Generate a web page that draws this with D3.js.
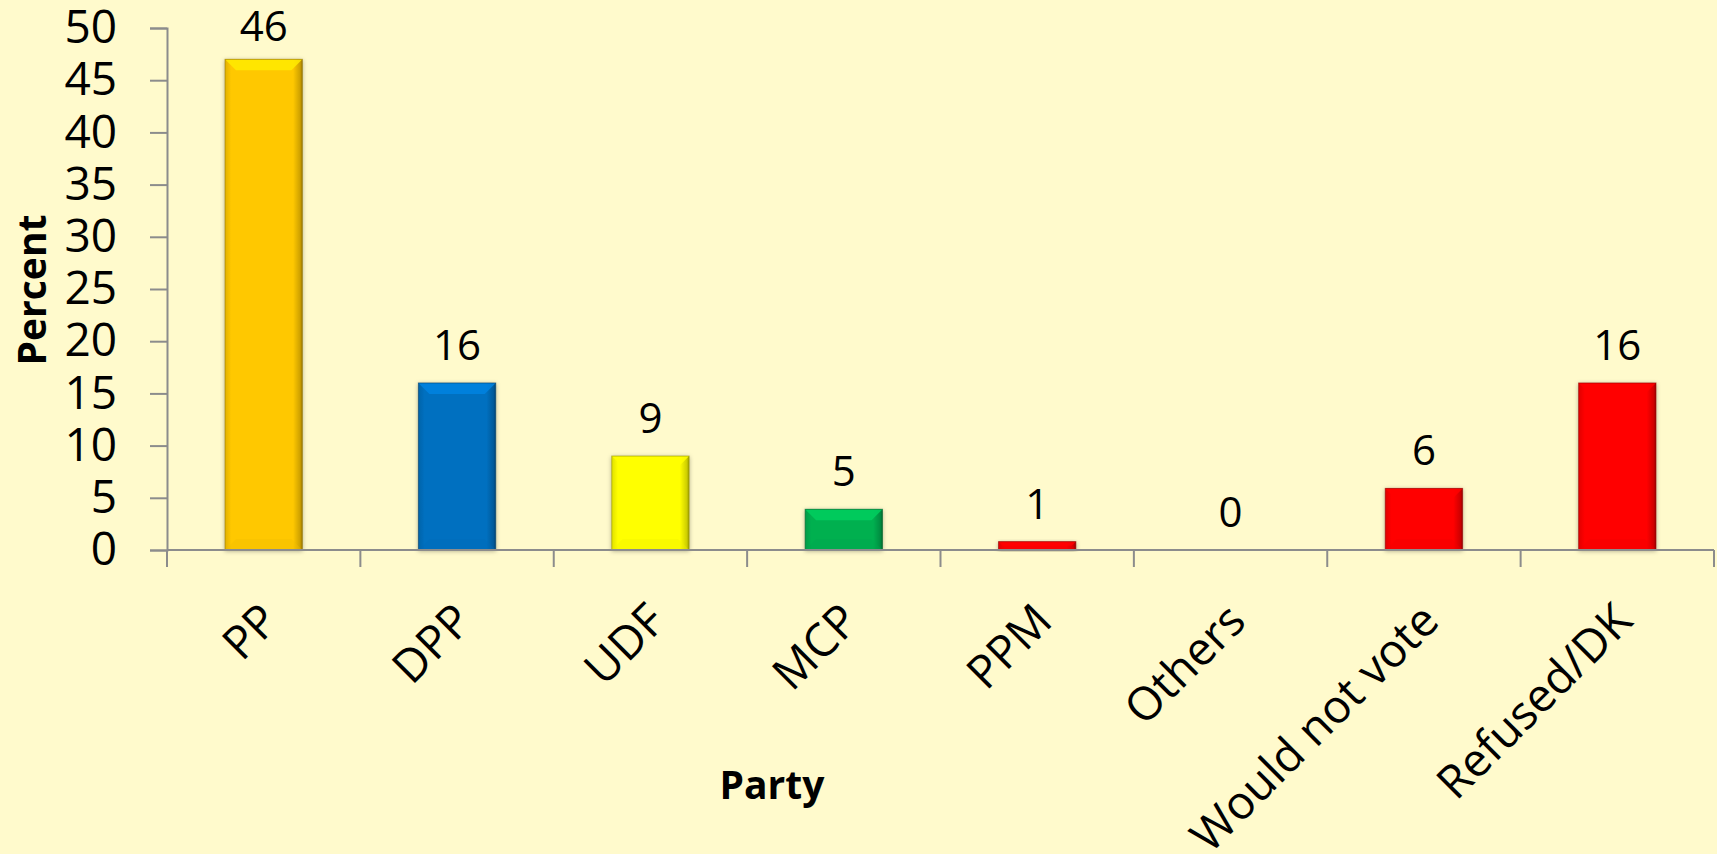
<!DOCTYPE html>
<html>
<head>
<meta charset="utf-8">
<script src="https://cdn.jsdelivr.net/npm/d3@7"></script>
<style>
  body { margin: 0; background: #FFFACC; }
  svg { display: block; font-family: 'Open Sans', sans-serif; }
</style>
</head>
<body>
<svg id="chart" width="1717" height="854"></svg>
<script>
// chart data
const parties = ['PP', 'DPP', 'UDF', 'MCP', 'PPM', 'Others', 'Would not vote', 'Refused/DK']
const barValues = [47, 16, 9, 3.9, 0.8, 0, 5.9, 16]
const barLabels = ['46', '16', '9', '5', '1', '0', '6', '16']
const barColors = ['#FFC800', '#0070C0', '#FFFF00', '#00B050', '#FF0000', '#FF0000', '#FF0000', '#FF0000']
const yTicks = [0, 5, 10, 15, 20, 25, 30, 35, 40, 45, 50]

const width = 1717, height = 854
const plotLeft = 167, plotRight = 1714, plotTop = 28, plotBottom = 550

const svg = d3.select('#chart')

svg.append('rect').attr('width', width).attr('height', height).attr('fill', '#FFFACC')

const x = d3.scaleBand()
    .domain(parties)
    .range([plotLeft, plotRight])
    .paddingInner(0.6)
    .paddingOuter(0.3)

const y = d3.scaleLinear()
    .domain([0, 50])
    .range([plotBottom, plotTop])

const defs = svg.append('defs')

// soft shadow like the office bevel style
const shadow = defs.append('filter').attr('id', 'shadow')
    .attr('x', '-20%').attr('y', '-20%').attr('width', '140%').attr('height', '140%')
shadow.append('feDropShadow')
    .attr('dx', 0).attr('dy', 1).attr('stdDeviation', 2)
    .attr('flood-color', '#000').attr('flood-opacity', 0.3)

// one horizontal gradient per colour
const uniqueColors = Array.from(new Set(barColors))
uniqueColors.forEach((c, i) => {
    const g = defs.append('linearGradient')
        .attr('id', 'grad' + i)
        .attr('x1', '0%').attr('x2', '100%').attr('y1', '0%').attr('y2', '0%')
    const base = d3.color(c)
    g.append('stop').attr('offset', '0%').attr('stop-color', base.darker(0.35))
    g.append('stop').attr('offset', '8%').attr('stop-color', base)
    g.append('stop').attr('offset', '88%').attr('stop-color', base)
    g.append('stop').attr('offset', '97%').attr('stop-color', base.darker(0.6))
    g.append('stop').attr('offset', '100%').attr('stop-color', base.darker(1.4))
})

// y axis
const yAxis = d3.axisLeft(y)
    .tickValues(yTicks)
    .tickSize(17)
    .tickPadding(33)

const axisLeft = svg.append('g')
    .attr('transform', 'translate(' + plotLeft + ',0)')
    .call(yAxis)

axisLeft.select('.domain').attr('stroke', '#8C8C8C').attr('stroke-width', 2)
axisLeft.selectAll('.tick line').attr('stroke', '#8C8C8C').attr('stroke-width', 2)
axisLeft.selectAll('.tick text')
    .attr('fill', '#000')
    .style('font-size', '46px')
    .style('font-family', "'Open Sans', sans-serif")

// bars
const bars = svg.selectAll('.bar')
    .data(parties)
    .enter()
    .append('g')
    .attr('class', 'bar')
    .attr('filter', 'url(#shadow)')

bars.each(function (d, i) {
    const v = barValues[i]
    if (v <= 0) return
    const g = d3.select(this)
    const x0 = x(d), w = x.bandwidth()
    const y0 = y(v), h = y(0) - y(v)
    const base = d3.color(barColors[i])
    const bev = Math.min(11, h / 2)

    g.append('rect')
        .attr('x', x0).attr('y', y0)
        .attr('width', w).attr('height', h)
        .attr('fill', 'url(#grad' + uniqueColors.indexOf(barColors[i]) + ')')

    // top bevel
    g.append('polygon')
        .attr('points', [[x0, y0], [x0 + w, y0], [x0 + w - bev, y0 + bev], [x0 + bev, y0 + bev]].join(' '))
        .attr('fill', base.brighter(0.45))
        .attr('opacity', 0.85)

    // bottom bevel, very faint
    g.append('polygon')
        .attr('points', [[x0, y0 + h], [x0 + w, y0 + h], [x0 + w - bev, y0 + h - bev], [x0 + bev, y0 + h - bev]].join(' '))
        .attr('fill', base.darker(0.15))
        .attr('opacity', 0.35)

    g.append('rect')
        .attr('x', x0).attr('y', y0)
        .attr('width', w).attr('height', h)
        .attr('fill', 'none')
        .attr('stroke', base.darker(1.6))
        .attr('stroke-opacity', 0.6)
        .attr('stroke-width', 1)
})

// x axis line and boundary ticks
const step = x.step()
const bounds = parties.map(p => x(p) + x.bandwidth() / 2 - step / 2)
bounds.push(plotRight)

svg.append('line')
    .attr('x1', plotLeft).attr('x2', plotRight)
    .attr('y1', plotBottom).attr('y2', plotBottom)
    .attr('stroke', '#8C8C8C').attr('stroke-width', 2)

svg.selectAll('.xtick')
    .data(bounds)
    .enter()
    .append('line')
    .attr('class', 'xtick')
    .attr('x1', d => d).attr('x2', d => d)
    .attr('y1', plotBottom).attr('y2', plotBottom + 17)
    .attr('stroke', '#8C8C8C').attr('stroke-width', 2)

// category labels, rotated
svg.selectAll('.xlabel')
    .data(parties)
    .enter()
    .append('text')
    .attr('class', 'xlabel')
    .attr('text-anchor', 'end')
    .attr('transform', d => 'translate(' + (x(d) + x.bandwidth() / 2 + 6) + ',' + 612 + ') rotate(-45)')
    .attr('dy', '0.35em')
    .style('font-size', '46px')
    .text(d => d)

// data labels
svg.selectAll('.vlabel')
    .data(parties)
    .enter()
    .append('text')
    .attr('class', 'vlabel')
    .attr('text-anchor', 'middle')
    .attr('x', d => x(d) + x.bandwidth() / 2)
    .attr('y', (d, i) => Math.max(y(barValues[i]) - 23, 41))
    .style('font-size', '42px')
    .text((d, i) => barLabels[i])

// axis titles
svg.append('text')
    .attr('text-anchor', 'middle')
    .attr('x', 772)
    .attr('y', 799)
    .style('font-size', '39px')
    .style('font-weight', 'bold')
    .text('Party')

svg.append('text')
    .attr('text-anchor', 'middle')
    .attr('transform', 'translate(46,290) rotate(-90)')
    .style('font-size', '39px')
    .style('font-weight', 'bold')
    .text('Percent')
</script>
</body>
</html>
